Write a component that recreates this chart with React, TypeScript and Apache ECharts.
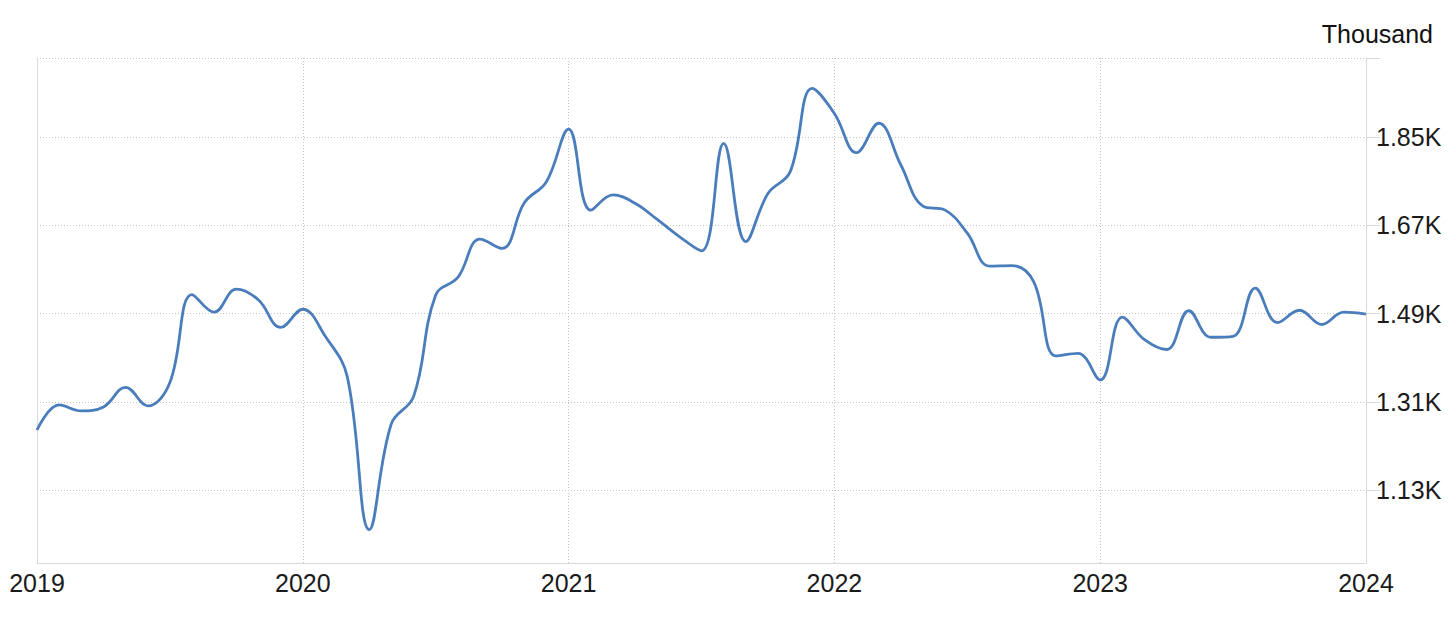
import React, { useEffect, useRef } from 'react';
import * as echarts from 'echarts';

// Monthly values (thousands), Jan 2019 .. Jan 2024
const startYear = 2019;
const values2019 = [1.253, 1.304, 1.292, 1.300, 1.340, 1.302, 1.350, 1.529, 1.493, 1.540, 1.518, 1.462];
const values2020 = [1.499, 1.445, 1.363, 1.050, 1.266, 1.321, 1.528, 1.564, 1.642, 1.623, 1.716, 1.759];
const values2021 = [1.866, 1.701, 1.732, 1.715, 1.682, 1.647, 1.618, 1.837, 1.637, 1.735, 1.779, 1.949];
const values2022 = [1.898, 1.818, 1.878, 1.793, 1.709, 1.701, 1.654, 1.587, 1.588, 1.555, 1.404, 1.409];
const values2023 = [1.355, 1.483, 1.437, 1.417, 1.496, 1.442, 1.444, 1.542, 1.472, 1.497, 1.468, 1.493];
const values2024 = [1.489];
const values = [...values2019, ...values2020, ...values2021, ...values2022, ...values2023, ...values2024];

const yTicks = [1.13, 1.31, 1.49, 1.67, 1.85];
const yMin = 0.982;
const yMax = 2.011;
const xMin = 2019;
const xMax = 2024;

const FONT = 'Liberation Sans, Arial, Helvetica, sans-serif';
const AXIS_COLOR = '#d9d9d9';
const GRID_COLOR = '#c6c6c6';

export default function App() {
  const ref = useRef<HTMLDivElement>(null);
  useEffect(() => {
    const chart = echarts.init(ref.current!, null, { renderer: 'svg' });
    const data = values.map((v, i) => [startYear + i / 12, v]);
    chart.setOption({
      animation: false,
      backgroundColor: '#ffffff',
      title: {
        text: 'Thousand',
        right: 23,
        top: 21,
        padding: 0,
        textStyle: { fontSize: 25, fontWeight: 'normal', color: '#111', fontFamily: FONT },
      },
      grid: { left: 37, right: 90, top: 58, bottom: 66, containLabel: false },
      xAxis: {
        type: 'value',
        min: xMin,
        max: xMax,
        interval: 1,
        axisLine: { show: true, lineStyle: { color: AXIS_COLOR, width: 1 } },
        axisTick: { show: false },
        axisLabel: {
          color: '#1a1a1a',
          fontSize: 25,
          fontFamily: FONT,
          margin: 7,
          formatter: (v: number) => String(Math.round(v)),
        },
        splitLine: { show: true, lineStyle: { color: GRID_COLOR, type: [1, 2], width: 1 } },
      },
      yAxis: [
        {
          type: 'value',
          position: 'right',
          min: yMin,
          max: yMax,
          axisLine: { show: true, lineStyle: { color: AXIS_COLOR, width: 1 } },
          axisTick: {
            show: true,
            inside: false,
            length: 14,
            lineStyle: { color: AXIS_COLOR },
            customValues: [...yTicks, yMax],
          },
          axisLabel: {
            customValues: yTicks,
            color: '#1a1a1a',
            fontSize: 25,
            fontFamily: FONT,
            margin: 10,
            verticalAlign: 'middle',
            padding: [0, 0, 3, 0],
            formatter: (v: number) => v.toFixed(2) + 'K',
          },
          splitLine: { show: true, lineStyle: { color: GRID_COLOR, type: [1, 2], width: 1 } },
        },
        {
          type: 'value',
          position: 'left',
          min: yMin,
          max: yMax,
          axisLine: { show: true, lineStyle: { color: AXIS_COLOR, width: 1 } },
          axisTick: { show: false },
          axisLabel: { show: false },
          splitLine: { show: false },
        },
      ],
      series: [
        {
          type: 'line',
          yAxisIndex: 0,
          data,
          smooth: 0.4,
          showSymbol: false,
          symbol: 'none',
          lineStyle: { color: '#4a7dbb', width: 2.8 },
        },
      ],
    });
    return () => chart.dispose();
  }, []);
  return <div ref={ref} style={{ position: 'fixed', left: 0, top: 0, width: 1456, height: 629 }} />;
}
